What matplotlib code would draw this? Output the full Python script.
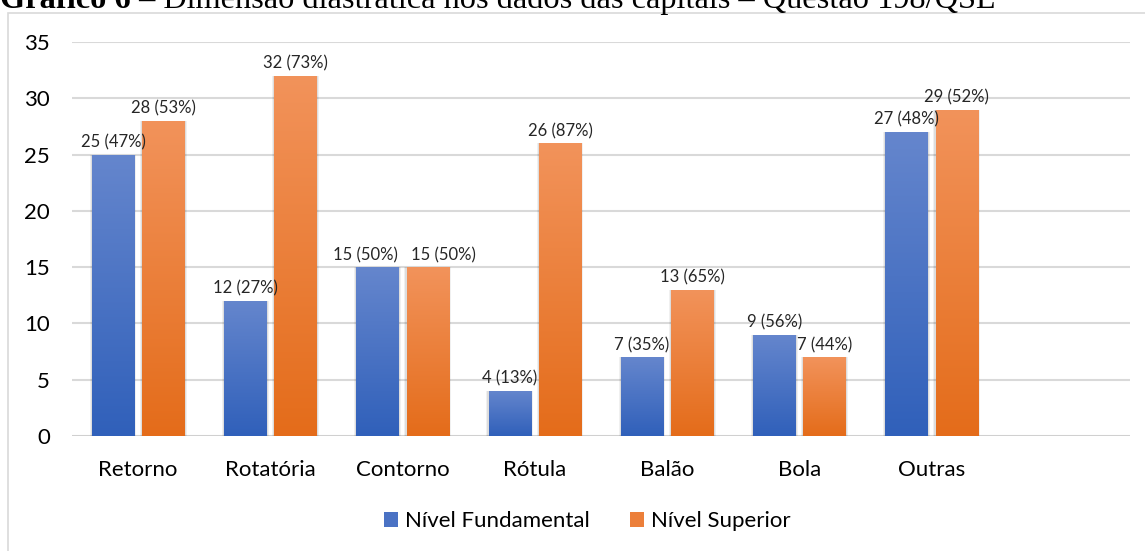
import numpy as np
import matplotlib.pyplot as plt
from matplotlib.colors import LinearSegmentedColormap
from matplotlib.patches import Rectangle

categorias = ["Retorno", "Rotatória", "Contorno", "Rótula", "Balão", "Bola", "Outras"]
fundamental = [25, 12, 15, 4, 7, 9, 27]
superior = [28, 32, 15, 26, 13, 7, 29]
pct_fundamental = [47, 27, 50, 13, 35, 56, 48]
pct_superior = [53, 73, 50, 87, 65, 44, 52]
series = ["Nível Fundamental", "Nível Superior"]

titulo_bold = "Gráfico 6"
titulo_resto = " – Dimensão diastrática nos dados das capitais – Questão 198/QSL"

plt.rcParams["font.family"] = ["Lato", "DejaVu Sans"]

azul = LinearSegmentedColormap.from_list("azul", ["#3060BA", "#6586CD"])
laranja = LinearSegmentedColormap.from_list("laranja", ["#E46C1A", "#F2935B"])

fig = plt.figure(figsize=(11.45, 5.51), dpi=100)

# moldura do gráfico
fig.patches.append(Rectangle((8 / 1145, -0.1), 1.2, 1 - 13 / 551 + 0.1,
                             transform=fig.transFigure, fill=False,
                             edgecolor="#D9D9D9", linewidth=1.2, zorder=0))

ax = fig.add_axes([72 / 1145, 115 / 551, 1058 / 1145, 394 / 551])

x = np.arange(len(categorias))
largura = 0.32
desloc = 0.19


def barra_gradiente(xc, h, cmap):
    r = ax.bar(xc, h, largura, color="none", edgecolor="none", zorder=3)[0]
    # sombra suave
    for k, a in [(0.035, 0.06), (0.02, 0.08)]:
        ax.add_patch(Rectangle((xc - largura / 2 - k * 0.5, -0.25), largura + k, h + 0.25,
                               facecolor="black", alpha=a, edgecolor="none", zorder=2))
    grad = np.linspace(0, 1, 256).reshape(-1, 1)
    im = ax.imshow(grad, cmap=cmap, aspect="auto", origin="lower",
                   extent=(xc - largura / 2, xc + largura / 2, 0, h), zorder=3)
    im.set_clip_path(r)


# rótulos muito próximos são afastados, como o Excel faz (em pontos)
afastar = {2: (-9, 11)}

for i in range(len(categorias)):
    barra_gradiente(x[i] - desloc, fundamental[i], azul)
    barra_gradiente(x[i] + desloc, superior[i], laranja)
    dx1, dx2 = afastar.get(i, (0, 0))
    ax.annotate(f"{fundamental[i]} ({pct_fundamental[i]}%)", (x[i] - desloc, fundamental[i]),
                xytext=(dx1, 3), textcoords="offset points",
                ha="center", va="bottom", fontsize=12, color="#262626", zorder=5)
    ax.annotate(f"{superior[i]} ({pct_superior[i]}%)", (x[i] + desloc, superior[i]),
                xytext=(dx2, 3), textcoords="offset points",
                ha="center", va="bottom", fontsize=12, color="#262626", zorder=5)

ax.set_xlim(-0.5, 7.5)
ax.set_ylim(0, 35)
ax.set_yticks(range(0, 36, 5))
ax.set_xticks(x)
ax.set_xticklabels(categorias)
ax.tick_params(axis="both", length=0, labelsize=16, colors="black")
ax.tick_params(axis="x", pad=17)
ax.tick_params(axis="y", pad=16)
ax.grid(axis="y", color="#D9D9D9", linewidth=1.5, zorder=0)
ax.set_axisbelow(True)
for s in ax.spines.values():
    s.set_visible(False)
ax.axhline(0, color="#D0D0D0", linewidth=2, zorder=1)

handles = [Rectangle((0, 0), 1, 1, facecolor="#4A72C4"),
           Rectangle((0, 0), 1, 1, facecolor="#EC7F3A")]
fig.legend(handles, series, loc="center", bbox_to_anchor=(587 / 1145, 1 - 521 / 551),
           ncol=2, frameon=False, fontsize=16, handlelength=0.65, handleheight=0.65,
           handletextpad=0.3, columnspacing=1.8)

# título (cortado no topo, como na imagem)
t = fig.text(0, 1 - 8 / 551, titulo_bold, fontfamily="Liberation Serif", fontweight="bold",
             fontsize=23.3, va="baseline", ha="left")
fig.canvas.draw()
bb = t.get_window_extent()
fig.text(bb.x1 / fig.bbox.width, 1 - 8 / 551, titulo_resto, fontfamily="Liberation Serif",
         fontsize=23.3, va="baseline", ha="left")

fig.savefig("out.png", dpi=100)
